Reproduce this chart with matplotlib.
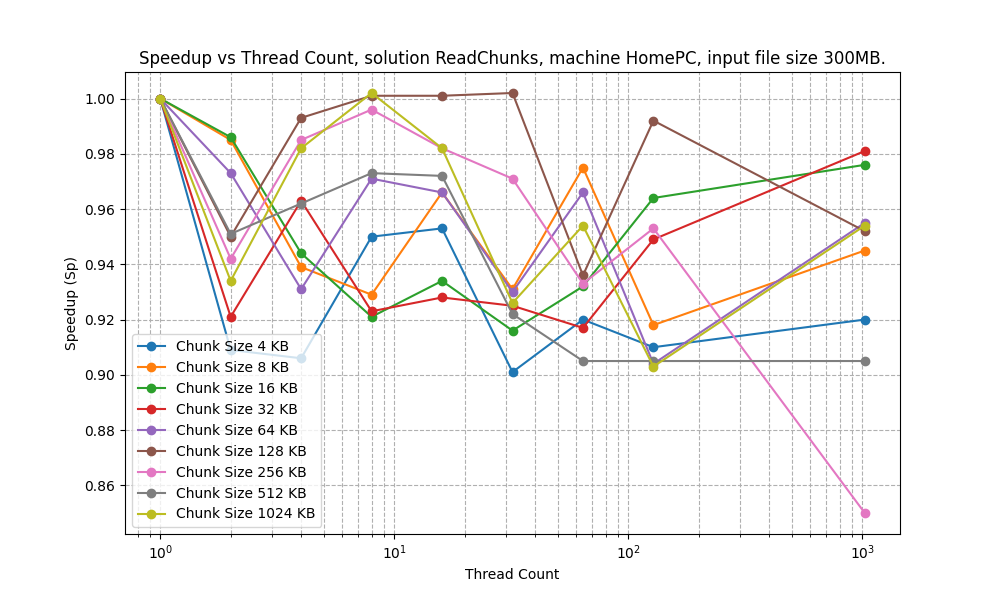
import matplotlib
matplotlib.use("Agg")
import matplotlib.pyplot as plt

threads = [1, 2, 4, 8, 16, 32, 64, 128, 1024]
chunk_labels = ["4 KB", "8 KB", "16 KB", "32 KB", "64 KB", "128 KB", "256 KB", "512 KB", "1024 KB"]
s4 = [1.0, 0.909, 0.906, 0.950, 0.953, 0.901, 0.920, 0.910, 0.920]
s8 = [1.0, 0.985, 0.939, 0.929, 0.966, 0.931, 0.975, 0.918, 0.945]
s16 = [1.0, 0.986, 0.944, 0.921, 0.934, 0.916, 0.932, 0.964, 0.976]
s32 = [1.0, 0.921, 0.963, 0.923, 0.928, 0.925, 0.917, 0.949, 0.981]
s64 = [1.0, 0.973, 0.931, 0.971, 0.966, 0.930, 0.966, 0.904, 0.955]
s128 = [1.0, 0.950, 0.993, 1.001, 1.001, 1.002, 0.936, 0.992, 0.952]
s256 = [1.0, 0.942, 0.985, 0.996, 0.982, 0.971, 0.933, 0.953, 0.850]
s512 = [1.0, 0.951, 0.962, 0.973, 0.972, 0.922, 0.905, 0.905, 0.905]
s1024 = [1.0, 0.934, 0.982, 1.002, 0.982, 0.926, 0.954, 0.903, 0.954]
series = [s4, s8, s16, s32, s64, s128, s256, s512, s1024]

fig, ax = plt.subplots(figsize=(10, 6), dpi=100)
for lab, vals in zip(chunk_labels, series):
    ax.plot(threads, vals, marker="o", label=f"Chunk Size {lab}")
ax.set_xscale("log")
ax.grid(True, which="both", linestyle="--")
ax.set_xlabel("Thread Count")
ax.set_ylabel("Speedup (Sp)")
ax.set_title("Speedup vs Thread Count, solution ReadChunks, machine HomePC, input file size 300MB.")
ax.legend(loc="lower left")
fig.savefig("out.png")
